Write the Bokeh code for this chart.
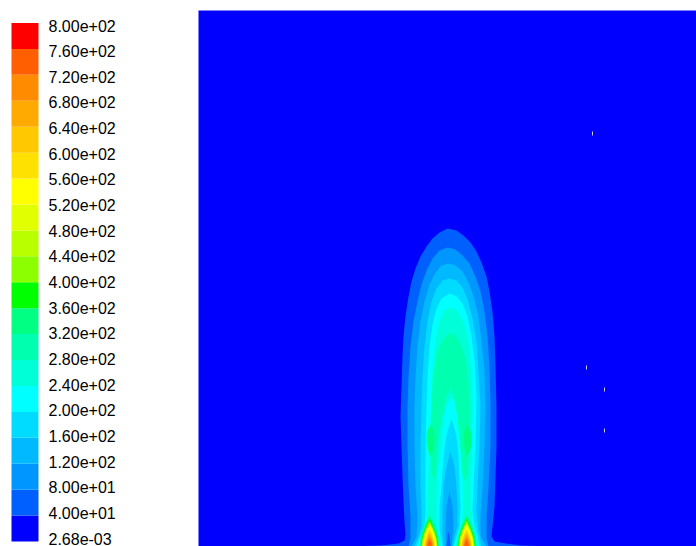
from bokeh.plotting import figure
from bokeh.models import Range1d, ColumnDataSource
from bokeh.core.properties import value
from bokeh.embed import file_html
from bokeh.resources import INLINE

# ---------------- data ----------------
# contour level boundaries (colour bar), bottom -> top
levels = [0.00268, 40, 80, 120, 160, 200, 240, 280, 320, 360, 400,
          440, 480, 520, 560, 600, 640, 680, 720, 760, 800]
tick_labels = ["2.68e-03", "4.00e+01", "8.00e+01", "1.20e+02", "1.60e+02",
               "2.00e+02", "2.40e+02", "2.80e+02", "3.20e+02", "3.60e+02",
               "4.00e+02", "4.40e+02", "4.80e+02", "5.20e+02", "5.60e+02",
               "6.00e+02", "6.40e+02", "6.80e+02", "7.20e+02", "7.60e+02",
               "8.00e+02"]
band_colors = ["#0000ff", "#005fff", "#0096ff", "#00b9ff", "#00dcff",
               "#00ffff", "#00ffd7", "#00ffaf", "#00ff82", "#00ff00",
               "#8cff00", "#b9ff00", "#e1ff00", "#ffff00", "#ffe100",
               "#ffc800", "#ffaa00", "#ff8c00", "#ff5f00", "#ff0000"]

# domain extent (x, height above lower boundary)
domain_x = [198, 696]
domain_h = [0, 536]

# contour outlines: (x, h) points of region >= level
flame_40 = [(345, 0), (380, 1), (398, 3), (404, 6), (405, 12), (404, 25), (403, 45),
            (402, 70), (401, 100), (400, 130), (401, 160), (402, 190), (403, 210),
            (405, 230), (408, 250), (411, 265), (415, 278), (420, 290), (426, 300),
            (432, 308), (439, 314), (447, 318), (456, 316), (463, 311), (470, 304),
            (476, 295), (481, 284), (486, 270), (489, 255), (492, 235), (494, 210),
            (495, 180), (496, 140), (496, 100), (495, 70), (494, 40), (492, 20),
            (491, 10), (494, 5), (505, 3), (520, 1), (555, 0)]
flame_80 = [(408, 0), (410, 8), (410, 30), (408, 60), (407, 100), (407, 140), (408, 170),
            (410, 200), (413, 225), (417, 245), (421, 262), (426, 276), (432, 288),
            (439, 296), (447, 299), (455, 297), (462, 291), (469, 283), (475, 270),
            (480, 255), (484, 235), (487, 210), (489, 180), (490, 140), (490, 100),
            (488, 60), (486, 30), (486, 8), (488, 0), (450, 0), (449, 10), (448, 15),
            (447, 10), (446, 0)]
flame_120 = [(411, 0), (416, 10), (417, 30), (415, 60), (414, 100), (414, 140), (415, 170),
             (417, 200), (420, 225), (424, 245), (429, 262), (435, 274), (441, 281),
             (448, 283), (455, 281), (462, 275), (468, 264), (473, 250), (478, 230),
             (481, 205), (484, 175), (485, 140), (484, 100), (482, 60), (480, 30),
             (480, 10), (486, 0), (451, 0), (453, 20), (452, 40), (449, 55), (446, 40),
             (445, 20), (445, 0)]
flame_160 = [(414, 0), (418, 10), (421, 20), (421, 35), (420, 60), (420, 100), (421, 140),
             (422, 170), (424, 200), (427, 225), (431, 245), (436, 258), (442, 266),
             (449, 268), (456, 266), (462, 259), (467, 247), (472, 228), (476, 205),
             (478, 175), (480, 140), (479, 100), (477, 60), (476, 35), (477, 20),
             (479, 10), (481, 0), (452, 0), (454, 10), (457, 20), (457, 40), (456, 60),
             (454, 80), (450, 95), (446, 80), (443, 60), (442, 40), (442, 20), (442, 10),
             (443, 0)]
flame_200 = [(416, 0), (420, 10), (424, 20), (425, 35), (425, 60), (425, 100), (426, 140),
             (427, 170), (429, 200), (432, 222), (436, 238), (441, 248), (449, 253),
             (456, 250), (462, 243), (467, 230), (471, 210), (474, 185), (476, 150),
             (475, 100), (473, 60), (472, 35), (474, 20), (477, 10), (479, 0), (453, 0),
             (456, 10), (459, 20), (460, 40), (459, 60), (458, 90), (456, 110), (451, 128),
             (446, 112), (443, 90), (441, 60), (439, 40), (439, 20), (440, 10), (442, 0)]
flame_240 = [(418, 0), (422, 10), (426, 20), (427, 40), (428, 70), (429, 100), (430, 130),
             (431, 160), (433, 190), (436, 212), (440, 228), (444, 236), (449, 239),
             (455, 237), (460, 231), (465, 218), (469, 198), (471, 170), (472, 140),
             (471, 100), (470, 70), (470, 40), (472, 20), (475, 10), (477, 0), (455, 0),
             (458, 10), (461, 20), (463, 40), (462, 70), (460, 100), (458, 125), (455, 142),
             (451, 149), (447, 144), (443, 128), (440, 100), (437, 70), (436, 40), (436, 20),
             (437, 10), (440, 0)]
flame_280 = [(433, 66), (431, 75), (430, 90), (430, 110), (431, 135), (432, 160), (435, 185),
             (439, 200), (444, 209), (449, 213), (455, 211), (460, 203), (465, 188),
             (468, 165), (469, 140), (469, 110), (468, 88), (467, 72), (464, 66), (462, 72),
             (461, 88), (459, 108), (457, 128), (454, 148), (450, 158), (445, 148),
             (441, 128), (438, 108), (436, 88), (435, 72)]
flame_320_left = [(430, 90), (427, 98), (426, 108), (427, 116), (430, 122), (433, 116),
                  (434, 108), (433, 98)]
flame_320_right = [(467, 90), (464, 98), (463, 108), (464, 116), (467, 122), (470, 116),
                   (471, 108), (470, 98)]

# hot spots at the two fuel jets: band index, heights and half-widths
jets_x = [429, 466]
hot_levels = [7, 8, 9, 10, 11, 12, 13, 14, 15, 16, 17, 18]
hot_h = [[0, 10, 20, 32], [0, 10, 20, 30], [0, 9, 18, 28], [0, 8, 16, 26],
         [0, 8, 16, 24], [0, 8, 15, 23], [0, 7, 14, 21], [0, 6, 12, 18],
         [0, 5, 10, 15.5], [0, 4, 8, 13], [0, 3.5, 7, 10], [0, 2.5, 5, 7]]
hot_w = [[10, 9, 6, 0], [9, 8, 5, 0], [8.5, 7.5, 4.5, 0], [8, 7, 4.5, 0],
         [7.5, 6.5, 4, 0], [7, 6, 3.6, 0], [6.5, 5.6, 3.3, 0], [5.6, 4.8, 2.8, 0],
         [4.8, 4.2, 2.4, 0], [4, 3.5, 2, 0], [3.2, 2.8, 1.6, 0], [2.3, 2, 1.1, 0]]

# small probe marks in the domain
probe_x = [592, 586, 604, 604]
probe_h = [413, 179, 157, 116]

# ---------------- figure ----------------
p = figure(width=696, height=546, x_range=Range1d(0, 696), y_range=Range1d(0, 546),
           output_backend="svg", toolbar_location=None, min_border=0,
           x_axis_type=None, y_axis_type=None)
p.grid.visible = False
p.outline_line_color = None
p.background_fill_color = "white"
p.border_fill_color = "white"

# domain background (lowest band)
p.quad(left=[domain_x[0]], right=[domain_x[1]], bottom=[domain_h[0]], top=[domain_h[1]],
       fill_color=band_colors[0], line_color=None)

xs, ys, cols = [], [], []
for poly, lvl in [(flame_40, 1), (flame_80, 2), (flame_120, 3), (flame_160, 4),
                  (flame_200, 5), (flame_240, 6), (flame_280, 7),
                  (flame_320_left, 8), (flame_320_right, 8)]:
    xs.append([pt[0] for pt in poly])
    ys.append([pt[1] for pt in poly])
    cols.append(band_colors[lvl])

for jx in jets_x:
    for lvl, hh, ww in zip(hot_levels, hot_h, hot_w):
        px = [jx - w for w in ww] + [jx + w for w in reversed(ww[:-1])]
        py = list(hh) + list(reversed(hh[:-1]))
        xs.append(px)
        ys.append(py)
        cols.append(band_colors[lvl])

p.patches(xs="xs", ys="ys", fill_color="c", line_color=None,
          source=ColumnDataSource(dict(xs=xs, ys=ys, c=cols)))

p.segment(x0=probe_x, y0=[h - 2 for h in probe_h], x1=probe_x, y1=[h + 2 for h in probe_h],
          line_color="#c8d0ff", line_width=1)

# colour bar
cb_left, cb_right, cb_bottom, cb_top = 11, 38, 5, 523.5
step = (cb_top - cb_bottom) / (len(levels) - 1)
p.quad(left=cb_left, right=cb_right,
       bottom=[cb_bottom + i * step for i in range(len(band_colors))],
       top=[cb_bottom + (i + 1) * step for i in range(len(band_colors))],
       fill_color=band_colors, line_color=None)

lab_step = 25.65
p.text(x=48, y=[8 + i * lab_step for i in range(len(tick_labels))], text=tick_labels,
       text_font=value("Liberation Sans"), text_font_size="16px",
       text_baseline="middle", text_align="left", text_color="black")

open("out.html", "w").write(file_html(p, INLINE))
